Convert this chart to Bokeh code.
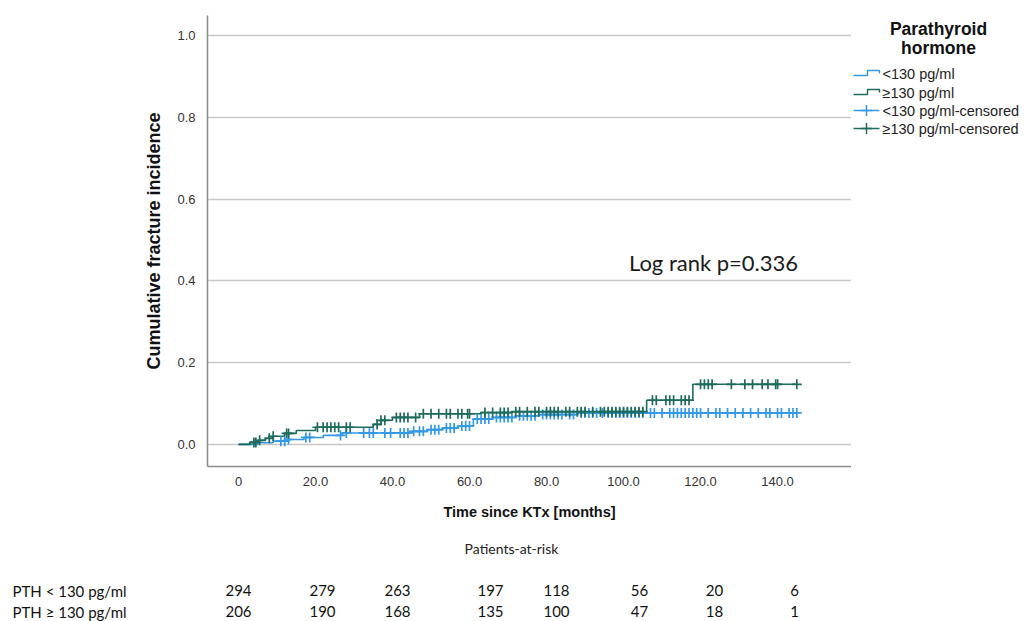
import numpy as np
from bokeh.plotting import figure
from bokeh.layouts import column, row
from bokeh.models import Label, Range1d, FixedTicker, NumeralTickFormatter
from bokeh.embed import file_html
from bokeh.resources import INLINE

# ---------------- data ----------------
# PTH >= 130 pg/ml : event times (months) and cumulative incidence after each step
ge_times = [3, 5, 7, 9, 12, 15, 20, 35, 37, 40, 47, 63, 71, 106, 118]
ge_cum = [0.005, 0.010, 0.015, 0.020, 0.027, 0.034, 0.042, 0.049, 0.059, 0.066, 0.075, 0.078, 0.080, 0.108, 0.147]
ge_end = 145
ge_censored = [4, 4.5, 5.5, 8, 9, 12.5, 13, 20.5, 22, 23, 24, 25, 26, 28, 29, 36, 37, 38, 41, 42, 43, 44,
               46, 48, 50, 52, 54, 55, 57, 58, 59.5, 60, 64, 66, 68, 69, 70, 72, 73, 75, 77, 78, 80, 81,
               82, 83, 85, 86, 88, 89, 90, 92, 94, 95, 96, 97, 98, 99, 100, 101, 102, 103, 104, 105,
               107.5, 108.5, 111, 112, 113, 115, 116, 117, 120, 121, 122, 123, 128, 131.5, 133.5, 136,
               137.5, 139.5, 140, 145]

# PTH < 130 pg/ml
lt_times = [5, 9, 13, 17, 22, 27, 45, 49, 53, 57, 61, 66, 72, 78, 88]
lt_cum = [0.004, 0.008, 0.012, 0.017, 0.022, 0.028, 0.032, 0.036, 0.040, 0.045, 0.062, 0.066, 0.070, 0.073, 0.077]
lt_end = 145
lt_censored = [11, 12, 13, 17.5, 18.5, 26.5, 28, 32.5, 34, 35, 38, 39.5, 42, 43, 44, 45.5, 47, 48, 50, 51,
               52, 54, 55, 56, 58, 59, 60, 62, 63, 64, 65, 67, 68, 69, 70, 71, 73, 74, 75, 76, 77, 79,
               80, 81, 82, 83, 84, 86, 87, 89, 90, 91, 92, 93, 94.5, 96, 97, 98, 99, 100, 101, 102, 103,
               104, 105, 107, 108, 110, 112, 113, 114, 115, 116, 117, 118, 119, 120, 122, 124, 125, 127,
               129, 131, 133, 135, 137, 138, 140, 141, 143, 144, 145]

x_ticks = [0, 20, 40, 60, 80, 100, 120, 140]
x_tick_labels = ["0", "20.0", "40.0", "60.0", "80.0", "100.0", "120.0", "140.0"]
y_ticks = [0.0, 0.2, 0.4, 0.6, 0.8, 1.0]

risk_lt = [294, 279, 263, 197, 118, 56, 20, 6]
risk_ge = [206, 190, 168, 135, 100, 47, 18, 1]
risk_row_labels = ["PTH < 130 pg/ml", "PTH \u2265 130 pg/ml"]
risk_title = "Patients-at-risk"

legend_labels = ["<130 pg/ml", "\u2265130 pg/ml", "<130 pg/ml-censored", "\u2265130 pg/ml-censored"]
legend_title = ["Parathyroid", "hormone"]
annotation_text = "Log rank p=0.336"

# ---------------- styling / layout ----------------
BLUE = "#3399e6"
GREEN = "#1c6b5d"
W, H = 1024, 621
MAIN_W, MAIN_H = 851, 530
FL, FT, FB = 207, 15, 466  # frame edges (pixels)

p = figure(width=MAIN_W, height=MAIN_H, output_backend="svg", toolbar_location=None,
           x_range=Range1d(-8.05, 159.2), y_range=Range1d(-0.054, 1.049),
           min_border_left=FL, min_border_right=0, min_border_top=FT, min_border_bottom=MAIN_H - FB)
p.outline_line_color = None
p.xgrid.grid_line_color = None
p.ygrid.grid_line_color = "#c8c8c8"
p.ygrid.grid_line_width = 1.3

for ax in (p.xaxis[0], p.yaxis[0]):
    ax.axis_line_color = "#8a8a8a"
    ax.axis_line_width = 1.5
    ax.major_tick_line_color = None
    ax.minor_tick_line_color = None
    ax.major_label_text_font = "Liberation Sans"
    ax.major_label_text_font_size = "13px"
    ax.major_label_text_color = "#333333"
    ax.axis_label_text_font = "Liberation Sans"
    ax.axis_label_text_font_style = "bold"
    ax.axis_label_text_color = "#111111"

p.xaxis.ticker = FixedTicker(ticks=x_ticks)
p.xaxis.major_label_overrides = {t: l for t, l in zip(x_ticks, x_tick_labels)}
p.xaxis.major_label_standoff = 4
p.xaxis.axis_label = "Time since KTx [months]"
p.xaxis.axis_label_text_font_size = "14.5px"
p.xaxis.axis_label_standoff = 15

p.yaxis.ticker = FixedTicker(ticks=y_ticks)
p.yaxis.formatter = NumeralTickFormatter(format="0.0")
p.yaxis.major_label_standoff = 6
p.yaxis.axis_label = "Cumulative fracture incidence"
p.yaxis.axis_label_text_font_size = "18px"
p.yaxis.axis_label_standoff = 10


def step_xy(times, cum, end):
    xs = [0.0] + list(times) + [end]
    ys = [0.0] + list(cum) + [cum[-1]]
    return xs, ys


def censor_y(times, cum, cens):
    t = np.asarray(times, float)
    c = np.concatenate([[0.0], np.asarray(cum, float)])
    idx = np.searchsorted(t, np.asarray(cens, float), side="right")
    return c[idx]


lx, ly = step_xy(lt_times, lt_cum, lt_end)
gx, gy = step_xy(ge_times, ge_cum, ge_end)
p.step(lx, ly, mode="after", line_color=BLUE, line_width=1.6)
p.step(gx, gy, mode="after", line_color=GREEN, line_width=1.6)
p.scatter(lt_censored, censor_y(lt_times, lt_cum, lt_censored), marker="cross",
          size=10, line_color=BLUE, line_width=1.7)
p.scatter(ge_censored, censor_y(ge_times, ge_cum, ge_censored), marker="cross",
          size=10, line_color=GREEN, line_width=1.7)

p.add_layout(Label(x=713 - FL, y=FB - 262, x_units="screen", y_units="screen", text=annotation_text,
                   text_font="Lato", text_font_size="22px", text_align="center",
                   text_baseline="middle", text_color="#1a1a1a"))


def pixel_fig(w, h, x0, y_top, y_bottom):
    f = figure(width=w, height=h, output_backend="svg", toolbar_location=None,
               x_range=Range1d(x0, x0 + w), y_range=Range1d(y_bottom, y_top),
               min_border=0, x_axis_location=None, y_axis_location=None)
    f.outline_line_color = None
    f.xgrid.grid_line_color = None
    f.ygrid.grid_line_color = None
    return f


def add_text(f, text, px, py, size, font="Liberation Sans", style="normal", align="left", color="#111111"):
    f.add_layout(Label(x=px, y=py, text=text, text_font=font, text_font_size=size,
                       text_font_style=style, text_align=align, text_baseline="middle",
                       text_color=color))


# ---------------- legend panel (right) ----------------
# its frame is aligned with the main frame (pixels FT..FB) by the row layout
lg = pixel_fig(W - MAIN_W, MAIN_H, MAIN_W, FT, FB)
add_text(lg, legend_title[0], 938, 28, "17.5px", style="bold", align="center")
add_text(lg, legend_title[1], 938, 47, "17.5px", style="bold", align="center")
item_y = [73, 92, 110, 128]
item_col = [BLUE, GREEN, BLUE, GREEN]
for i, (lab, cy, col) in enumerate(zip(legend_labels, item_y, item_col)):
    if i < 2:
        lg.line([853, 867, 867, 879, 879], [cy + 2, cy + 2, cy - 3, cy - 3, cy], line_color=col, line_width=1.4)
    else:
        lg.line([853, 879], [cy, cy], line_color=col, line_width=1.4)
        lg.scatter([866], [cy], marker="cross", size=11, line_color=col, line_width=1.5)
    add_text(lg, lab, 882, cy, "14.5px", color="#222222")

# ---------------- patients-at-risk table (bottom) ----------------
tb = pixel_fig(W, H - MAIN_H, 0, MAIN_H, H)
add_text(tb, risk_title, 511, 548, "14px", font="Lato", align="center", color="#222222")
col_px = [238, 322, 397, 490, 556, 639, 714, 794]
for r, (lab, vals) in enumerate(zip(risk_row_labels, [risk_lt, risk_ge])):
    py = 590 + 21 * r
    add_text(tb, lab, 12, py, "15px", font="Lato")
    for cx, v in zip(col_px, vals):
        add_text(tb, str(v), cx, py, "15px", font="Lato", align="center")

layout = column(row(p, lg), tb)
open("out.html", "w").write(file_html(layout, INLINE))
